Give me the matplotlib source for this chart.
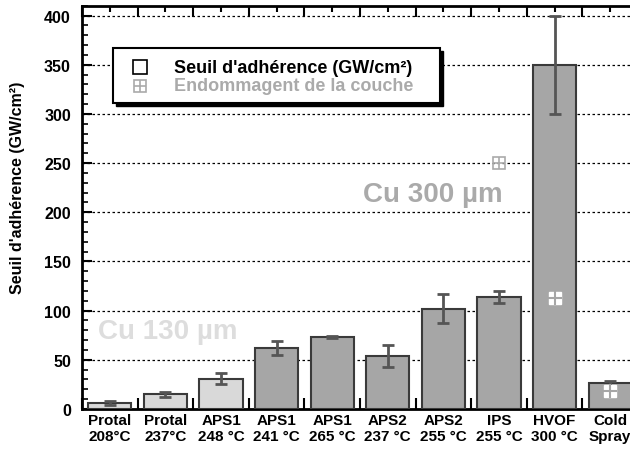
import matplotlib.pyplot as plt
import numpy as np
from matplotlib.patches import Rectangle
from matplotlib.ticker import MultipleLocator

plt.rcParams['font.family'] = ['Liberation Sans', 'DejaVu Sans']
plt.rcParams['font.weight'] = 'bold'

# Data
labels = ["Protal\n208°C", "Protal\n237°C", "APS1\n248 °C", "APS1\n241 °C",
          "APS1\n265 °C", "APS2\n237 °C", "APS2\n255 °C", "IPS\n255 °C",
          "HVOF\n300 °C", "Cold\nSpray"]
threshold = [6, 15, 31, 62, 73, 54, 102, 114, 350, 26]
errors = [2, 2.5, 6, 7, 1, 11, 15, 6, 50, 2.5]
thin_coat = [True, True, True, False, False, False, False, False, False, False]

# damage points (x index, value, drawn on bar?)
damage_x = [7, 8, 9]
damage_y = [250, 113, 18]
damage_inside = [False, True, True]

light = "#d9d9d9"
dark = "#a6a6a6"
grey_txt = "#aaaaaa"

fig = plt.figure(figsize=(6.3, 4.52), dpi=100)
ax = fig.add_axes([82 / 630, 42 / 452, 556 / 630, 403.3 / 452])

x = np.arange(len(labels))
colors = [light if t else dark for t in thin_coat]
ax.bar(x, threshold, width=0.78, color=colors, edgecolor="#3a3a3a",
       linewidth=1.5, zorder=3)
ax.errorbar(x, threshold, yerr=errors, fmt="none", ecolor="#555555",
            elinewidth=2, capsize=4, capthick=2, zorder=4)

for xi, yi, inside in zip(damage_x, damage_y, damage_inside):
    if inside:
        ax.plot(xi, yi, marker="s", ms=9, mfc="white", mec="white", zorder=5)
        ax.plot(xi, yi, marker="+", ms=10, mew=1.5, color=dark, zorder=6)
    else:
        ax.plot(xi, yi, marker="s", ms=9, mfc="none", mec=grey_txt,
                mew=1.2, zorder=5)
        ax.plot(xi, yi, marker="+", ms=9, mew=1.2, color=grey_txt, zorder=5)

ax.text(1.04, 79, "Cu 130 µm", color="#dddddd", fontsize=20, fontweight="bold",
        ha="center", va="center", zorder=2)
ax.text(5.81, 219, "Cu 300 µm", color=grey_txt, fontsize=20, fontweight="bold",
        ha="center", va="center", zorder=2)

ax.set_xlim(-0.5, 9.5)
ax.set_ylim(0, 410)
ax.set_xticks(x)
ax.set_xticklabels(labels, fontsize=11, fontweight="bold", linespacing=1.15)
ax.set_xticks(np.arange(-0.5, 10, 1), minor=True)
ax.set_yticks(np.arange(0, 401, 50))
ax.yaxis.set_minor_locator(MultipleLocator(10))
ax.tick_params(axis="y", which="major", direction="in", length=7, width=1.5,
               labelsize=11.5, pad=8)
ax.tick_params(axis="y", which="minor", direction="in", length=4, width=1.2)
ax.tick_params(axis="x", which="major", direction="in", length=4, width=1.5,
               top=True, pad=3)
ax.tick_params(axis="x", which="minor", direction="in", length=8, width=1.5,
               top=True)
for lab in ax.get_yticklabels():
    lab.set_fontweight("bold")

ax.grid(axis="y", linestyle=(0, (2, 2)), color="black", linewidth=0.9, zorder=1)
ax.set_axisbelow(True)
for side in ["left", "bottom", "top"]:
    ax.spines[side].set_linewidth(2)
ax.spines["right"].set_visible(False)

ax.set_ylabel("Seuil d'adhérence (GW/cm²)", fontsize=11.5, fontweight="bold")
ax.yaxis.set_label_coords(-0.103, 0.55)

# legend box drawn by hand (axes fraction coords)
bx0, by0, bw, bh = 0.0558, 0.759, 0.588, 0.136
ax.add_patch(Rectangle((bx0 + 0.0054, by0 - 0.0074), bw, bh, transform=ax.transAxes,
                       facecolor="black", edgecolor="black", zorder=8))
ax.add_patch(Rectangle((bx0, by0), bw, bh, transform=ax.transAxes,
                       facecolor="white", edgecolor="black", linewidth=1.5,
                       zorder=9))
ax.plot(0.104, 0.848, marker="s", ms=10, mfc="white", mec="black", mew=1.2,
        transform=ax.transAxes, zorder=10, clip_on=False)
ax.plot(0.104, 0.801, marker="s", ms=9, mfc="none", mec=grey_txt, mew=1.2,
        transform=ax.transAxes, zorder=10, clip_on=False)
ax.plot(0.104, 0.801, marker="+", ms=9, mew=1.2, color=grey_txt,
        transform=ax.transAxes, zorder=10, clip_on=False)
ax.text(0.1655, 0.848, "Seuil d'adhérence (GW/cm²)", transform=ax.transAxes,
        fontsize=13, fontweight="bold", color="black", va="center", zorder=10)
ax.text(0.1655, 0.801, "Endommagent de la couche", transform=ax.transAxes,
        fontsize=13, fontweight="bold", color=grey_txt, va="center", zorder=10)

fig.savefig("out.png", dpi=100)
